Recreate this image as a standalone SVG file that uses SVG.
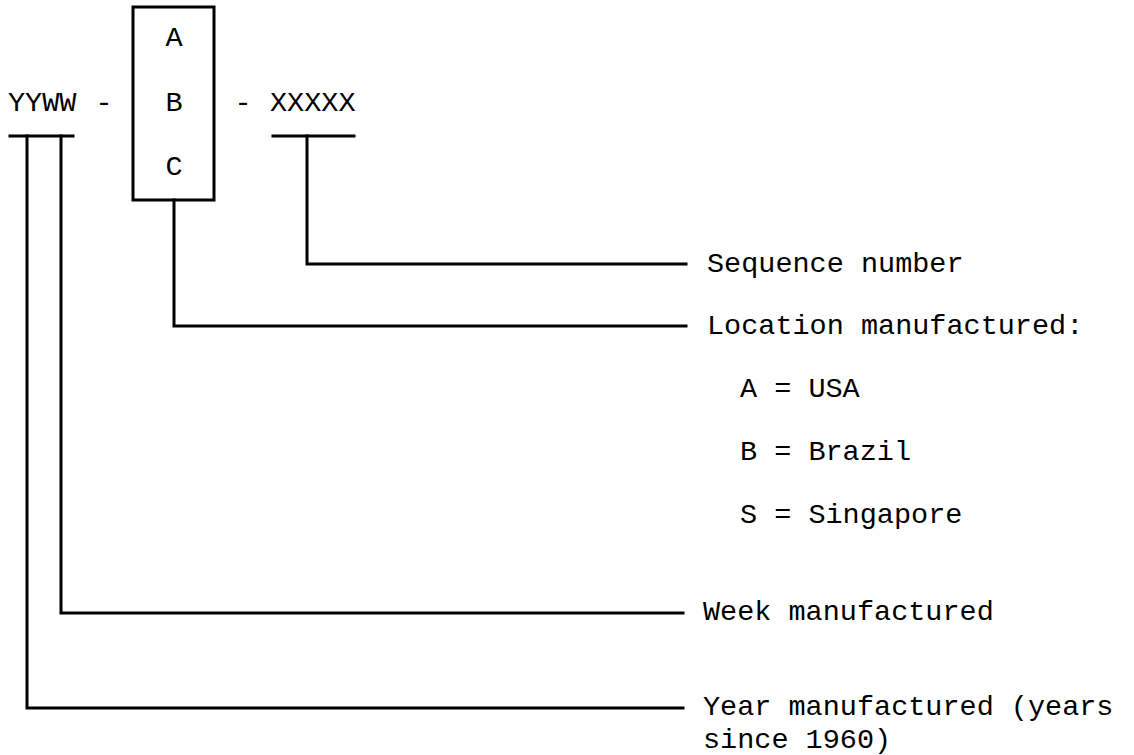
<svg xmlns="http://www.w3.org/2000/svg" width="1134" height="755" viewBox="0 0 1134 755">
<style>
text{font-family:"Liberation Mono","Courier New",monospace;font-size:28.5px;fill:#000}
.c{text-anchor:middle}
.ln{fill:none;stroke:#000;stroke-width:3;stroke-linecap:square;stroke-linejoin:miter}
</style>
<rect width="1134" height="755" fill="#fff"/>
<g id="code">
<text x="8" y="111">YYWW</text>
<text class="c" x="104" y="111">-</text>
<text class="c" x="243" y="111">-</text>
<text x="270" y="111">XXXXX</text>
<line class="ln" x1="10" y1="136" x2="73" y2="136"/>
<line class="ln" x1="273" y1="136" x2="354" y2="136"/>
</g>
<g id="location-box">
<rect class="ln" x="133" y="7" width="81" height="193"/>
<text class="c" x="174" y="46">A</text>
<text class="c" x="174" y="111">B</text>
<text class="c" x="174" y="175">C</text>
</g>
<g id="connectors">
<path class="ln" d="M307 136 V264 H686"/>
<path class="ln" d="M174 200 V326 H686"/>
<path class="ln" d="M61 136 V613 H683"/>
<path class="ln" d="M27 136 V708 H683"/>
</g>
<g id="label-sequence"><text x="707" y="272">Sequence number</text></g>
<g id="label-location">
<text x="707" y="334">Location manufactured:</text>
<text x="740" y="397">A = USA</text>
<text x="740" y="460">B = Brazil</text>
<text x="740" y="523">S = Singapore</text>
</g>
<g id="label-week"><text x="703" y="620">Week manufactured</text></g>
<g id="label-year">
<text x="703" y="715">Year manufactured (years</text>
<text x="703" y="748">since 1960)</text>
</g>
</svg>
